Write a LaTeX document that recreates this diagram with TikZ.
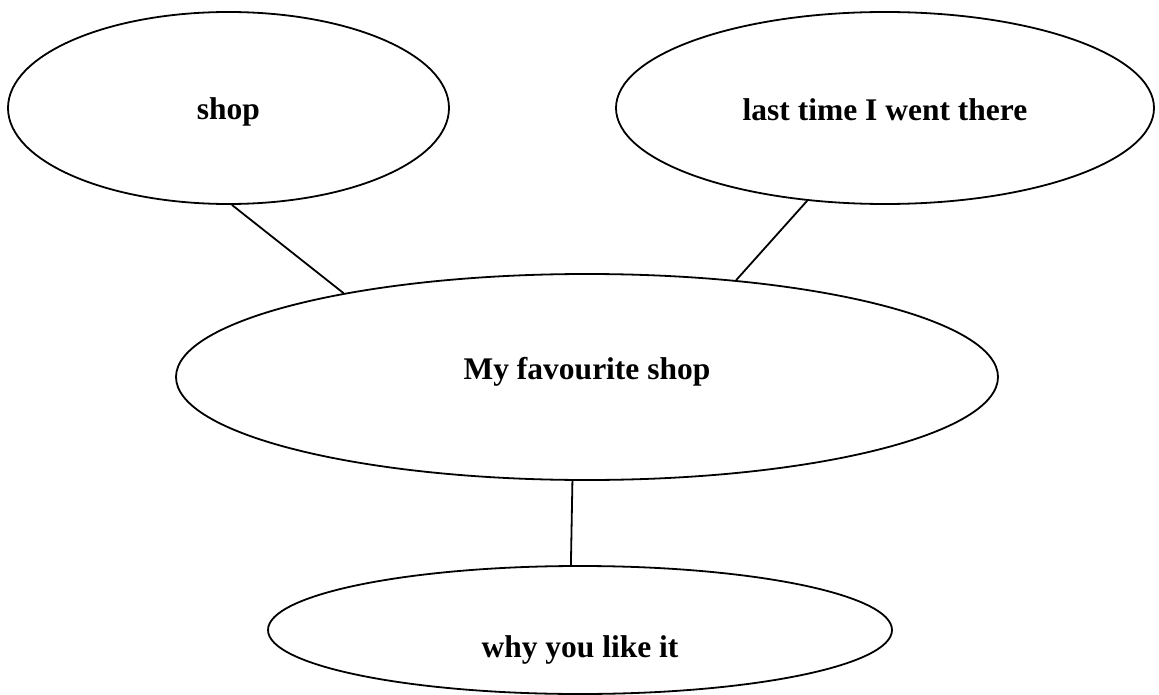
\documentclass[tikz,border=0pt]{standalone}
\usepackage{fontspec}
\setmainfont{Liberation Serif}
\usetikzlibrary{shapes.geometric}

\tikzset{bubble/.style={ellipse, draw, line width=1.8pt, inner sep=0pt,
  font=\bfseries\fontsize{31.5}{38}\selectfont}}

\begin{document}
\begin{tikzpicture}[x=1pt, y=-1pt]
    \useasboundingbox (0,0) rectangle (1159,695);
    \node[bubble, minimum width=441pt, minimum height=192pt] (shop) at (228.5,108) {\raisebox{-4pt}[\height][\depth]{shop}};
    \node[bubble, minimum width=538pt, minimum height=192pt] (last) at (885,108) {\raisebox{-2pt}[\height][\depth]{last time I went there}};
    \node[bubble, minimum width=822pt, minimum height=206pt] (fav)  at (587,377) {\raisebox{5pt}[\height][\depth]{My favourite shop}};
    \node[bubble, minimum width=624pt, minimum height=128pt] (why)  at (580,630) {\raisebox{-20pt}[\height][\depth]{why you like it}};
    \draw[line width=1.8pt] (shop.272) -- (fav.161.6);
    \draw[line width=1.8pt] (last.230.4) -- (fav.33.6);
    \draw[line width=1.8pt] (fav.262.2) -- (why.98);
  \end{tikzpicture}
\end{document}
